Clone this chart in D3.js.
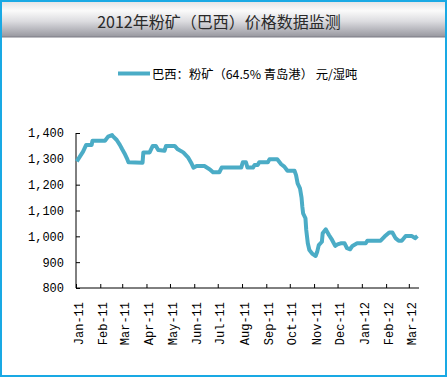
<!DOCTYPE html>
<html><head><meta charset="utf-8">
<script src="https://cdn.jsdelivr.net/npm/d3@7/dist/d3.min.js"></script>
<style>html,body{margin:0;padding:0;background:#fff;}svg{display:block;}</style>
</head><body>
<script>
const title = "2012年粉矿（巴西）价格数据监测";
const seriesName = "巴西：粉矿（64.5% 青岛港） 元/湿吨";
const yTicks = [800, 900, 1000, 1100, 1200, 1300, 1400];
const monthTicks = ["2011-01-01","2011-02-01","2011-03-01","2011-04-01","2011-05-01","2011-06-01","2011-07-01","2011-08-01","2011-09-01","2011-10-01","2011-11-01","2011-12-01","2012-01-01","2012-02-01","2012-03-01"];
const dates = ["2011-01-02","2011-01-10","2011-01-14","2011-01-21","2011-01-22","2011-02-07","2011-02-11","2011-02-16","2011-02-17","2011-02-22","2011-02-26","2011-03-01","2011-03-04","2011-03-07","2011-03-09","2011-03-27","2011-03-28","2011-04-05","2011-04-09","2011-04-13","2011-04-16","2011-04-24","2011-04-26","2011-05-07","2011-05-11","2011-05-18","2011-05-24","2011-05-28","2011-05-31","2011-06-04","2011-06-14","2011-06-21","2011-06-25","2011-07-03","2011-07-06","2011-07-31","2011-08-02","2011-08-06","2011-08-08","2011-08-15","2011-08-17","2011-08-21","2011-08-23","2011-09-03","2011-09-05","2011-09-15","2011-09-20","2011-09-24","2011-09-28","2011-10-07","2011-10-09","2011-10-11","2011-10-14","2011-10-16","2011-10-17","2011-10-18","2011-10-21","2011-10-22","2011-10-24","2011-10-26","2011-10-30","2011-11-03","2011-11-05","2011-11-07","2011-11-11","2011-11-12","2011-11-16","2011-11-20","2011-11-24","2011-11-28","2011-12-01","2011-12-05","2011-12-10","2011-12-13","2011-12-17","2011-12-20","2011-12-26","2012-01-06","2012-01-08","2012-01-25","2012-01-30","2012-02-05","2012-02-09","2012-02-13","2012-02-17","2012-02-21","2012-02-26","2012-03-05","2012-03-09","2012-03-12"];
const values = [1290,1328,1354,1354,1370,1370,1386,1392,1388,1373,1354,1337,1321,1302,1287,1285,1325,1325,1350,1350,1334,1331,1350,1350,1337,1325,1306,1285,1266,1272,1272,1259,1248,1248,1266,1266,1287,1287,1266,1266,1276,1276,1287,1287,1298,1298,1279,1270,1254,1254,1237,1205,1186,1150,1115,1089,1070,1025,973,947,932,924,940,966,979,1012,1027,1005,986,963,969,973,973,954,950,963,973,973,983,983,999,1015,1015,993,983,983,1001,1001,993,1001];

const W = 447, H = 377;
const svg = d3.select("body").append("svg").attr("width", W).attr("height", H);
const defs = svg.append("defs");
const g = defs.append("linearGradient").attr("id","tb").attr("x1",0).attr("y1",0).attr("x2",0).attr("y2",1);
g.append("stop").attr("offset","0%").attr("stop-color","#e4e4e6");
g.append("stop").attr("offset","25%").attr("stop-color","#fafafa");
g.append("stop").attr("offset","55%").attr("stop-color","#dcdce0");
g.append("stop").attr("offset","100%").attr("stop-color","#96969e");

svg.append("rect").attr("x",0).attr("y",0).attr("width",W).attr("height",H).attr("fill","#fff");
svg.append("rect").attr("x",2).attr("y",2).attr("width",W-4).attr("height",35).attr("fill","url(#tb)");
svg.append("line").attr("x1",2).attr("x2",W-2).attr("y1",37).attr("y2",37).attr("stroke","#7d7d85").attr("stroke-width",1.2);
svg.append("text").attr("x",219).attr("y",21).attr("text-anchor","middle").attr("dominant-baseline","central")
  .attr("font-family","'Noto Sans CJK SC'").attr("font-size",16).attr("fill","#2a2a2a").text(title);

// legend
svg.append("line").attr("x1",118).attr("x2",150).attr("y1",73.5).attr("y2",73.5).attr("stroke","#4bacc6").attr("stroke-width",4);
svg.append("text").attr("x",152).attr("y",73.5).attr("dominant-baseline","central")
  .attr("font-family","'Noto Sans CJK SC'").attr("font-size",12.3).attr("fill","#000").text(seriesName);

const parse = d3.timeParse("%Y-%m-%d");
const x = d3.scaleTime().domain([parse("2011-01-01"), parse("2012-03-14")]).range([76, 419]);
const y = d3.scaleLinear().domain([800, 1400]).range([288, 133]);

// y axis
const ya = svg.append("g").attr("transform","translate(76,0)")
  .call(d3.axisLeft(y).tickValues(yTicks).tickSize(-4).tickPadding(10).tickFormat(d3.format(",")));
ya.select(".domain").attr("stroke","#000").attr("d","M0,133V288");
ya.selectAll(".tick line").attr("stroke","#000");
ya.selectAll("text").attr("font-family","'Liberation Mono'").attr("font-size",12).attr("fill","#000").attr("x",-12);

// x axis
const xa = svg.append("g").attr("transform","translate(0,288)")
  .call(d3.axisBottom(x).tickValues(monthTicks.map(parse)).tickSize(-4).tickFormat(d3.timeFormat("%b-%y")));
xa.select(".domain").attr("stroke","#000").attr("d","M76,0H419");
xa.selectAll(".tick line").attr("stroke","#000");
xa.selectAll("text").attr("font-family","'Liberation Mono'").attr("font-size",12).attr("fill","#000")
  .attr("transform","rotate(-90)").attr("text-anchor","end").attr("x",-14).attr("y",2).attr("dy","0.35em");

// line
const data = dates.map((d,i)=>({d:parse(d), v:values[i]}));
svg.append("path").datum(data).attr("fill","none").attr("stroke","#4bacc6").attr("stroke-width",4).attr("stroke-linejoin","round")
  .attr("d", d3.line().x(p=>x(p.d)).y(p=>y(p.v)));

// border
svg.append("rect").attr("x",1).attr("y",1).attr("width",W-2).attr("height",H-2).attr("fill","none").attr("stroke","#19a9e4").attr("stroke-width",2);
</script>
</body></html>
